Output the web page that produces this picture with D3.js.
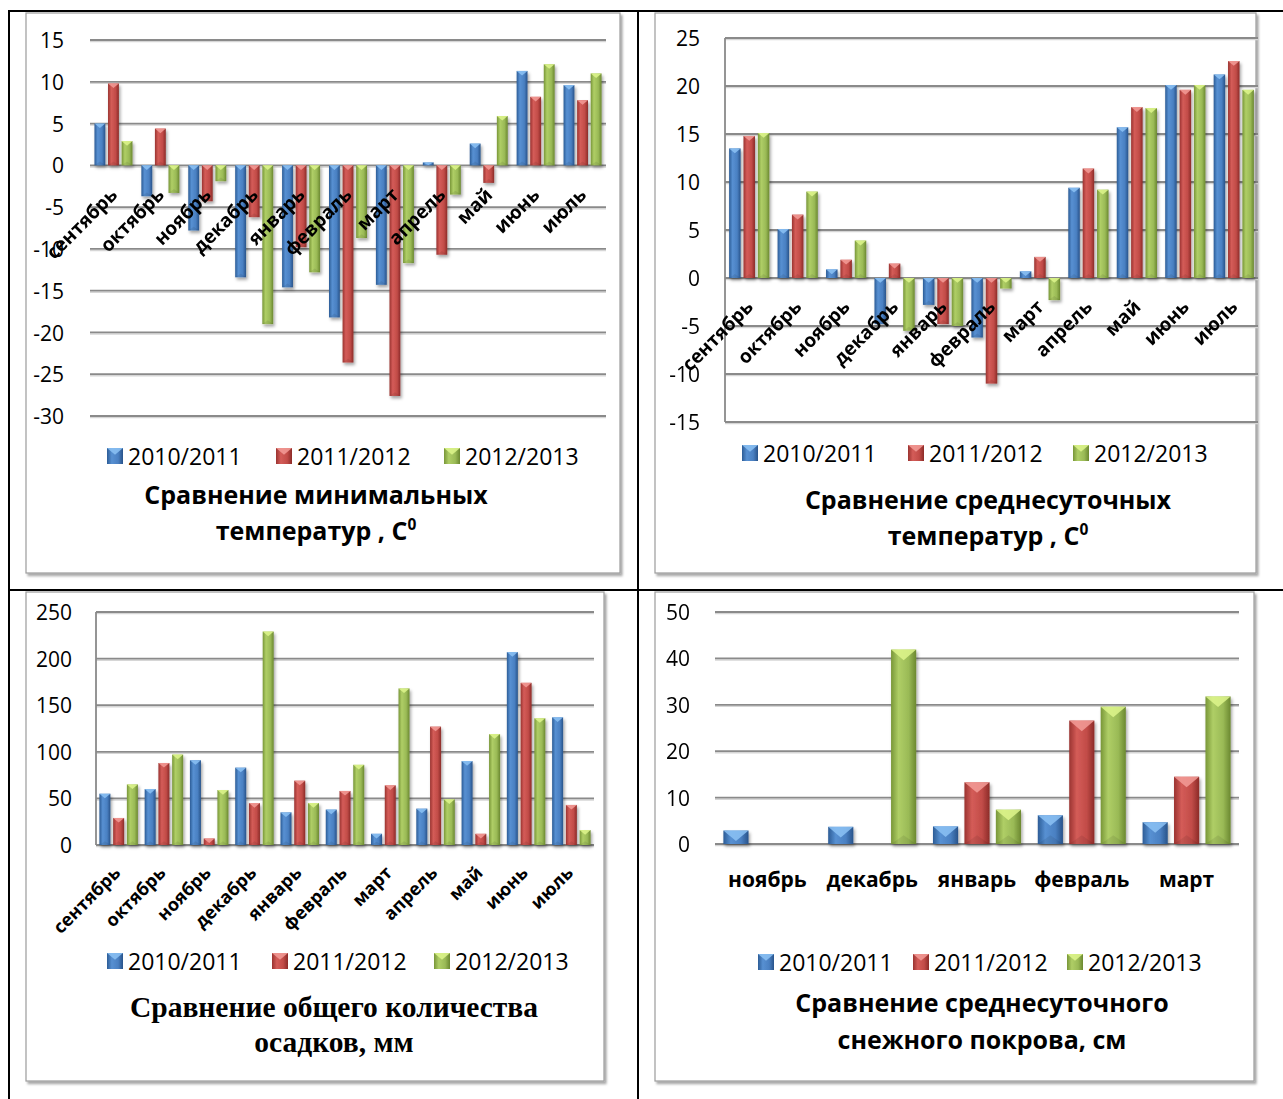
<!DOCTYPE html>
<html>
<head>
<meta charset="utf-8">
<script src="https://cdn.jsdelivr.net/npm/d3@7"></script>
<style>
  body { margin: 0; background: #fff; }
  svg { display: block; }
</style>
</head>
<body>
<svg id="board" width="1283" height="1099"></svg>
<script>
// ---- data ----
const months = ["сентябрь", "октябрь", "ноябрь", "декабрь", "январь", "февраль",
                "март", "апрель", "май", "июнь", "июль"];
const snowMonths = ["ноябрь", "декабрь", "январь", "февраль", "март"];
const seasons = ["2010/2011", "2011/2012", "2012/2013"];

// minimal temperatures, °C
const minTemp2010 = [5.0, -3.7, -7.8, -13.4, -14.6, -18.2, -14.3, 0.35, 2.6, 11.3, 9.6];
const minTemp2011 = [9.8, 4.4, -4.3, -6.2, -9.8, -23.6, -27.6, -10.7, -2.1, 8.2, 7.8];
const minTemp2012 = [2.9, -3.3, -1.9, -19.0, -12.8, -8.7, -11.7, -3.5, 5.9, 12.1, 11.0];
const minTempTicks = [15, 10, 5, 0, -5, -10, -15, -20, -25, -30];

// mean daily temperatures, °C
const avgTemp2010 = [13.5, 5.1, 0.9, -4.8, -2.8, -6.2, 0.7, 9.4, 15.7, 20.1, 21.2];
const avgTemp2011 = [14.8, 6.6, 1.9, 1.5, -4.8, -11.0, 2.2, 11.4, 17.8, 19.6, 22.6];
const avgTemp2012 = [15.1, 9.0, 3.9, -5.5, -5.0, -1.1, -2.3, 9.2, 17.7, 20.1, 19.6];
const avgTempTicks = [25, 20, 15, 10, 5, 0, -5, -10, -15];

// total precipitation, mm
const precip2010 = [55, 60, 91, 83, 35, 38, 12, 39, 90, 207, 137];
const precip2011 = [29, 88, 7, 45, 69, 58, 64, 127, 12, 174, 43];
const precip2012 = [65, 97, 59, 229, 45, 86, 168, 49, 119, 136, 16];
const precipTicks = [250, 200, 150, 100, 50, 0];

// mean daily snow cover, cm
const snow2010 = [2.9, 3.7, 3.8, 6.2, 4.7];
const snow2011 = [null, null, 13.3, 26.6, 14.5];
const snow2012 = [null, 41.9, 7.4, 29.6, 31.8];
const snowTicks = [50, 40, 30, 20, 10, 0];

// ---- styling ----
const SANS = "'Open Sans', 'Noto Sans', sans-serif";
const SERIF = "'Liberation Serif', 'DejaVu Serif', serif";
const GRID = "#8a8a8a";
const palette = [
  { stops: ["#2c5c96", "#5790d2", "#4a80c2", "#28538a"], tip: "#8cc2f4" },
  { stops: ["#9a3330", "#d45c58", "#c24c48", "#8c2b28"], tip: "#f39c98" },
  { stops: ["#789638", "#afce66", "#9aba56", "#6b8830"], tip: "#def68c" }
];

const svg = d3.select("#board");
const defs = svg.append("defs");

palette.forEach((p, i) => {
  const g = defs.append("linearGradient").attr("id", "bar" + i)
    .attr("x1", "0").attr("x2", "1").attr("y1", "0").attr("y2", "0");
  [0, 0.3, 0.7, 1].forEach((o, k) =>
    g.append("stop").attr("offset", o).attr("stop-color", p.stops[k]));
});

const barShadow = defs.append("filter").attr("id", "barShadow")
  .attr("x", "-50%").attr("y", "-20%").attr("width", "200%").attr("height", "140%");
barShadow.append("feDropShadow").attr("dx", 1.5).attr("dy", 2.5)
  .attr("stdDeviation", 1.6).attr("flood-color", "#000").attr("flood-opacity", 0.35);

const frameShadow = defs.append("filter").attr("id", "frameShadow")
  .attr("x", "-5%").attr("y", "-5%").attr("width", "110%").attr("height", "110%");
frameShadow.append("feDropShadow").attr("dx", 2).attr("dy", 2.5)
  .attr("stdDeviation", 1.2).attr("flood-color", "#000").attr("flood-opacity", 0.35);

svg.append("rect").attr("width", 1283).attr("height", 1099).attr("fill", "#fff");

// table rules around the four cells
const rules = [
  [8, 11, 1283, 11], [9, 11, 9, 1099], [638, 11, 638, 1099], [9, 590, 1283, 590]
];
svg.append("g").selectAll("line").data(rules).join("line")
  .attr("x1", d => d[0]).attr("y1", d => d[1]).attr("x2", d => d[2]).attr("y2", d => d[3])
  .attr("stroke", "#000").attr("stroke-width", 2);

// one bevelled bar (body + light wedge at the top)
function drawBar(g, x, w, yv, y0, colorIdx) {
  const top = Math.min(yv, y0), h = Math.abs(yv - y0);
  const bar = g.append("g");
  bar.append("rect").attr("x", x).attr("y", top).attr("width", w).attr("height", h)
    .attr("fill", `url(#bar${colorIdx})`);
  const th = Math.min(w * 0.42, h * 0.9);
  bar.append("path")
    .attr("d", `M${x},${top}L${x + w},${top}L${x + w / 2},${top + th}Z`)
    .attr("fill", palette[colorIdx].tip).attr("opacity", 0.85);
  if (h > w) {
    const bh = Math.min(w * 0.35, h * 0.3);
    bar.append("path")
      .attr("d", `M${x},${top + h}L${x + w},${top + h}L${x + w / 2},${top + h - bh}Z`)
      .attr("fill", "#000").attr("opacity", 0.08);
  }
}

function drawChart(cfg) {
  const root = svg.append("g");

  // chart frame
  root.append("rect")
    .attr("x", cfg.frame[0]).attr("y", cfg.frame[1])
    .attr("width", cfg.frame[2]).attr("height", cfg.frame[3])
    .attr("fill", "#fff").attr("stroke", "#9c9c9c").attr("stroke-width", 1.2)
    .attr("filter", "url(#frameShadow)");

  const y = d3.scaleLinear().domain(cfg.domain).range([cfg.yBottom, cfg.yTop]);
  const x0 = d3.scaleBand().domain(cfg.categories).range([cfg.xLeft, cfg.xRight])
    .paddingInner(cfg.groupGap).paddingOuter(cfg.groupGap / 2);
  const x1 = d3.scaleBand().domain(d3.range(cfg.series.length))
    .range([0, x0.bandwidth()]).paddingInner(0.2);

  // gridlines
  const grid = root.append("g");
  grid.selectAll("line.shade").data(cfg.ticks).join("line")
    .attr("x1", cfg.xLeft).attr("x2", cfg.xRight)
    .attr("y1", d => y(d) + 1.6).attr("y2", d => y(d) + 1.6)
    .attr("stroke", "#d6d6d6").attr("stroke-width", 1.4);
  grid.selectAll("line.main").data(cfg.ticks).join("line")
    .attr("x1", cfg.xLeft).attr("x2", cfg.xRight)
    .attr("y1", d => y(d)).attr("y2", d => y(d))
    .attr("stroke", GRID).attr("stroke-width", 1.8);
  if (cfg.axisLine) {
    grid.append("line")
      .attr("x1", cfg.xLeft).attr("x2", cfg.xLeft)
      .attr("y1", y(cfg.domain[1])).attr("y2", y(cfg.domain[0]))
      .attr("stroke", GRID).attr("stroke-width", 1.8);
  }

  // value axis labels
  const yAxis = d3.axisLeft(y).tickValues(cfg.ticks).tickSize(0).tickPadding(0)
    .tickFormat(d => d < 0 ? "-" + Math.abs(d) : String(d));
  const ax = root.append("g").attr("transform", `translate(${cfg.tickRight},0)`).call(yAxis);
  ax.select(".domain").remove();
  ax.selectAll("text").attr("font-family", SANS).attr("font-size", 21)
    .attr("fill", "#000").attr("dy", "0.36em");

  // bars
  const bars = root.append("g").attr("filter", "url(#barShadow)");
  cfg.series.forEach((vals, s) => {
    vals.forEach((v, i) => {
      if (v === null) return;
      drawBar(bars, x0(cfg.categories[i]) + x1(s), x1.bandwidth(), y(v), y(0), s);
    });
  });

  // category labels
  const lab = root.append("g").attr("font-family", SANS).attr("font-weight", "bold")
    .attr("fill", "#000");
  cfg.categories.forEach(c => {
    const cx = x0(c) + x0.bandwidth() / 2;
    if (cfg.labelMode === "flat") {
      lab.append("text").attr("x", cx).attr("y", cfg.labelY)
        .attr("text-anchor", "middle").attr("font-size", cfg.labelSize).text(c);
    } else {
      const lx = cx + cfg.labelOffset[0], ly = cfg.labelBase + cfg.labelOffset[1];
      lab.append("text").attr("x", lx).attr("y", ly)
        .attr("transform", `rotate(-45,${lx},${ly})`)
        .attr("text-anchor", "end").attr("font-size", cfg.labelSize).text(c);
    }
  });

  // legend
  const leg = root.append("g");
  seasons.forEach((name, s) => {
    const lx = cfg.legendX[s], ly = cfg.legendY;
    const item = leg.append("g");
    drawBar(item, lx, 16, ly - 8, ly + 8, s);
    item.append("text").attr("x", lx + 21).attr("y", ly + 8.5)
      .attr("font-family", SANS).attr("font-size", 23).attr("fill", "#000").text(name);
  });

  // title
  const t = root.append("g").attr("font-family", cfg.titleFont)
    .attr("font-weight", "bold").attr("font-size", cfg.titleSize)
    .attr("text-anchor", "middle").attr("fill", "#000");
  cfg.title.forEach((line, k) => {
    const txt = t.append("text").attr("x", cfg.titleX).attr("y", cfg.titleY[k]);
    if (line.endsWith("С0")) {
      txt.append("tspan").text(line.slice(0, -1));
      txt.append("tspan").attr("font-size", cfg.titleSize * 0.62).attr("dy", -10).text("0");
    } else {
      txt.text(line);
    }
  });
}

drawChart({
  frame: [26, 13, 594, 560],
  categories: months,
  series: [minTemp2010, minTemp2011, minTemp2012],
  domain: [-30, 15], ticks: minTempTicks,
  xLeft: 90, xRight: 606, yTop: 40, yBottom: 416,
  groupGap: 0.19, axisLine: false, tickRight: 64,
  labelMode: "rotated", labelBase: 166, labelOffset: [5, 30], labelSize: 19,
  legendX: [107, 276, 444], legendY: 456,
  title: ["Сравнение минимальных", "температур , С0"], titleFont: SANS, titleSize: 25,
  titleX: 316, titleY: [504, 540]
});

drawChart({
  frame: [655, 13, 601, 560],
  categories: months,
  series: [avgTemp2010, avgTemp2011, avgTemp2012],
  domain: [-15, 25], ticks: avgTempTicks,
  xLeft: 725, xRight: 1258, yTop: 38, yBottom: 422,
  groupGap: 0.17, axisLine: true, tickRight: 700,
  labelMode: "rotated", labelBase: 277, labelOffset: [5, 31], labelSize: 19,
  legendX: [742, 908, 1073], legendY: 453,
  title: ["Сравнение среднесуточных", "температур , С0"], titleFont: SANS, titleSize: 25,
  titleX: 988, titleY: [509, 545]
});

drawChart({
  frame: [26, 592, 578, 489],
  categories: months,
  series: [precip2010, precip2011, precip2012],
  domain: [0, 250], ticks: precipTicks,
  xLeft: 96, xRight: 594, yTop: 612, yBottom: 845,
  groupGap: 0.15, axisLine: true, tickRight: 72,
  labelMode: "rotated", labelBase: 845, labelOffset: [3, 29], labelSize: 18,
  legendX: [107, 272, 434], legendY: 961,
  title: ["Сравнение общего количества", "осадков, мм"], titleFont: SERIF, titleSize: 29.5,
  titleX: 334, titleY: [1017, 1052]
});

drawChart({
  frame: [655, 592, 599, 489],
  categories: snowMonths,
  series: [snow2010, snow2011, snow2012],
  domain: [0, 50], ticks: snowTicks,
  xLeft: 715, xRight: 1239, yTop: 612, yBottom: 844,
  groupGap: 0.16, axisLine: false, tickRight: 690,
  labelMode: "flat", labelY: 887, labelSize: 21,
  legendX: [758, 913, 1067], legendY: 962,
  title: ["Сравнение среднесуточного", "снежного покрова, см"], titleFont: SANS, titleSize: 25,
  titleX: 982, titleY: [1012, 1049]
});
</script>
</body>
</html>
